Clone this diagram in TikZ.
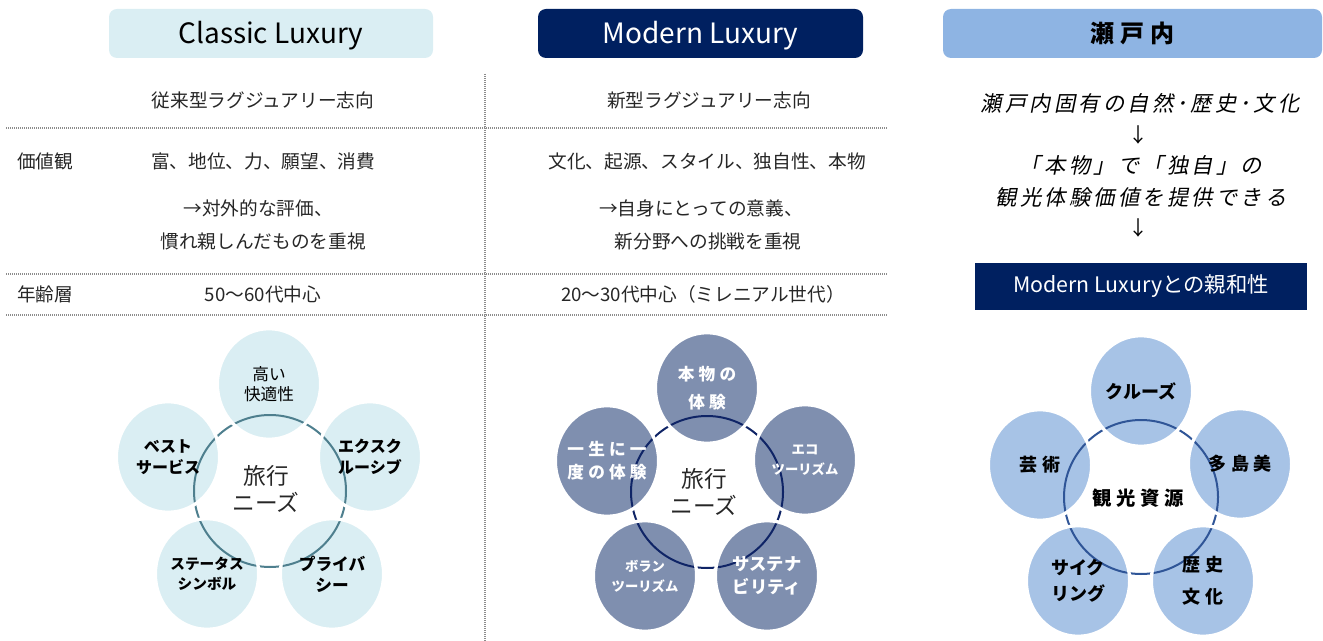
\documentclass[tikz,border=0pt]{standalone}
\usepackage{fontspec}
\setmainfont{Noto Sans CJK JP}
\newfontfamily\slantjp[FakeSlant=0.2,LetterSpace=15]{Noto Sans CJK JP}
\newfontfamily\widejp[LetterSpace=25]{Noto Sans CJK JP}
\usetikzlibrary{shapes.geometric}

\definecolor{navy}{HTML}{002060}
\definecolor{paleblue}{HTML}{DAEEF3}
\definecolor{skyblue}{HTML}{8EB4E3}
\definecolor{slateblue}{HTML}{7F8FAF}
\definecolor{softblue}{HTML}{A7C3E6}
\definecolor{tealring}{HTML}{4E7F8E}
\definecolor{navyring}{HTML}{0F2466}
\definecolor{bluering}{HTML}{2F5597}
\definecolor{rulegray}{HTML}{8C8C8C}
\definecolor{inkgray}{HTML}{262626}

\tikzset{
  header/.style={rounded corners=6pt, minimum height=36.75pt, inner sep=0pt,
    text height=15.5pt, text depth=0pt, font=\fontsize{21}{23}\selectfont},
  rowtext/.style={inner sep=0pt, text=inkgray, font=\fontsize{14}{16}\selectfont},
  rule/.style={draw=rulegray, line width=1.5pt, dash pattern=on 0.75pt off 0.75pt},
  ring/.style={circle, draw, line width=1.5pt, minimum size=114pt, inner sep=0pt},
  ringline/.style={line width=1.5pt},
  bubble/.style={ellipse, draw=white, line width=2.5pt, minimum width=77.5pt,
    minimum height=83pt, inner xsep=-12pt, inner ysep=-8pt, align=center},
  clbubble/.style={bubble, fill=paleblue,
    path picture={\draw[ringline, tealring] (cr.center) circle [radius=57pt];}},
  mlbubble/.style={bubble, fill=slateblue, text=white,
    path picture={\draw[ringline, navyring] (mr.center) circle [radius=57pt];}},
  sebubble/.style={bubble, fill=softblue,
    path picture={\draw[ringline, bluering] (sr.center) circle [radius=57.75pt];}},
}

\begin{document}
\begin{tikzpicture}[x=0.75pt, y=-0.75pt]
  \useasboundingbox (0,0) rectangle (1323,641);

  % headers
  \node[header, fill=paleblue, minimum width=243pt] (hcl) at (271,33.5) {Classic Luxury};
  \node[header, fill=navy, text=white, minimum width=243.75pt] (hml) at (700.5,33.5) {Modern Luxury};
  \node[header, fill=skyblue, minimum width=284.25pt, text height=14pt] (hse) at (1132.5,33.5)
    {\widejp\bfseries\fontsize{18}{20}\selectfont 瀬戸内};

  % table rules
  \draw[rule] (6,128) -- (888,128);
  \draw[rule] (6,274) -- (888,274);
  \draw[rule] (6,315) -- (888,315);
  \draw[rule] (485,74) -- (485,641);

  % table text
  \node[rowtext] (t1) at (263,100) {従来型ラグジュアリー志向};
  \node[rowtext] (t2) at (709,100) {新型ラグジュアリー志向};
  \node[rowtext, anchor=west] (k1) at (17,161) {価値観};
  \node[rowtext] (v1) at (263,161) {富、地位、力、願望、消費};
  \node[rowtext] (v2) at (258,208) {→対外的な評価、};
  \node[rowtext] (v3) at (263,241) {慣れ親しんだものを重視};
  \node[rowtext] (w1) at (707,161) {文化、起源、スタイル、独自性、本物};
  \node[rowtext] (w2) at (701,208) {→自身にとっての意義、};
  \node[rowtext] (w3) at (708,241) {新分野への挑戦を重視};
  \node[rowtext, anchor=west] (k2) at (17,294) {年齢層};
  \node[rowtext] (v4) at (263,294) {50〜60代中心};
  \node[rowtext] (w4) at (703,294) {20〜30代中心（ミレニアル世代）};

  % setouchi text
  \node[rowtext, text=black, font=\slantjp\fontsize{16}{18}\selectfont] (r1) at (1140,103) {瀬戸内固有の自然･歴史･文化};
  \node[rowtext, text=black, font=\fontsize{15}{17}\selectfont] (a1) at (1138,135) {↓};
  \node[rowtext, text=black, font=\slantjp\fontsize{16}{18}\selectfont] (r2) at (1141,165) {「本物」で「独自」の};
  \node[rowtext, text=black, font=\slantjp\fontsize{16}{18}\selectfont] (r3) at (1141,197) {観光体験価値を提供できる};
  \node[rowtext, text=black, font=\fontsize{15}{17}\selectfont] (a2) at (1138,228) {↓};
  \node[fill=navy, text=white, minimum width=249pt, minimum height=35.25pt, inner sep=0pt,
    font=\fontsize{16}{18}\selectfont] (aff) at (1141,286.5) {Modern Luxuryとの親和性};

  % classic luxury bubbles
  \node[ring, draw=tealring] (cr) at (270,491) {};
  \node[clbubble, font=\fontsize{12.5}{15}\selectfont] (c1) at (269,384) {高い\\快適性};
  \node[clbubble, font=\bfseries\fontsize{12}{15.5}\selectfont] (c2) at (168,457) {ベスト\\サービス};
  \node[clbubble, font=\bfseries\fontsize{12}{15.5}\selectfont] (c3) at (370,457) {エクスク\\ルーシブ};
  \node[clbubble, font=\bfseries\fontsize{11}{15}\selectfont] (c4) at (207,574) {ステータス\\シンボル};
  \node[clbubble, font=\bfseries\fontsize{12.5}{15.5}\selectfont] (c5) at (332,574) {プライバ\\シー};
  \node[text=inkgray, align=center, font=\fontsize{17}{20}\selectfont] (cn) at (266,489) {旅行\\ニーズ};

  % modern luxury bubbles
  \node[ring, draw=navyring] (mr) at (707,492) {};
  \node[mlbubble, font=\widejp\bfseries\fontsize{12.5}{21}\selectfont] (m1) at (707,388) {本物の\\体験};
  \node[mlbubble, font=\widejp\bfseries\fontsize{12.5}{17}\selectfont] (m2) at (607,461) {一生に一\\度の体験};
  \node[mlbubble, font=\bfseries\fontsize{10}{15}\selectfont] (m3) at (805,460) {エコ\\ツーリズム};
  \node[mlbubble, font=\bfseries\fontsize{10}{15}\selectfont] (m4) at (645,576) {ボラン\\ツーリズム};
  \node[mlbubble, font=\bfseries\fontsize{13}{17}\selectfont] (m5) at (767,576) {サステナ\\ビリティ};
  \node[text=inkgray, align=center, font=\fontsize{17}{20}\selectfont] (mn) at (704,492) {旅行\\ニーズ};

  % setouchi bubbles
  \node[ring, draw=bluering, minimum size=115.5pt] (sr) at (1141,497) {};
  \node[sebubble, font=\bfseries\fontsize{13.5}{17}\selectfont] (s1) at (1141,391) {クルーズ};
  \node[sebubble, font=\widejp\bfseries\fontsize{13.5}{17}\selectfont] (s2) at (1040,465) {芸術};
  \node[sebubble, font=\widejp\bfseries\fontsize{13.5}{17}\selectfont] (s3) at (1240,464) {多島美};
  \node[sebubble, font=\bfseries\fontsize{13.5}{19}\selectfont] (s4) at (1078,581) {サイク\\リング};
  \node[sebubble, font=\widejp\bfseries\fontsize{13.5}{24}\selectfont] (s5) at (1203,581) {歴史\\文化};
  \node[font=\widejp\bfseries\fontsize{14.5}{17}\selectfont] (sn) at (1138,498) {観光資源};
\end{tikzpicture}
\end{document}
